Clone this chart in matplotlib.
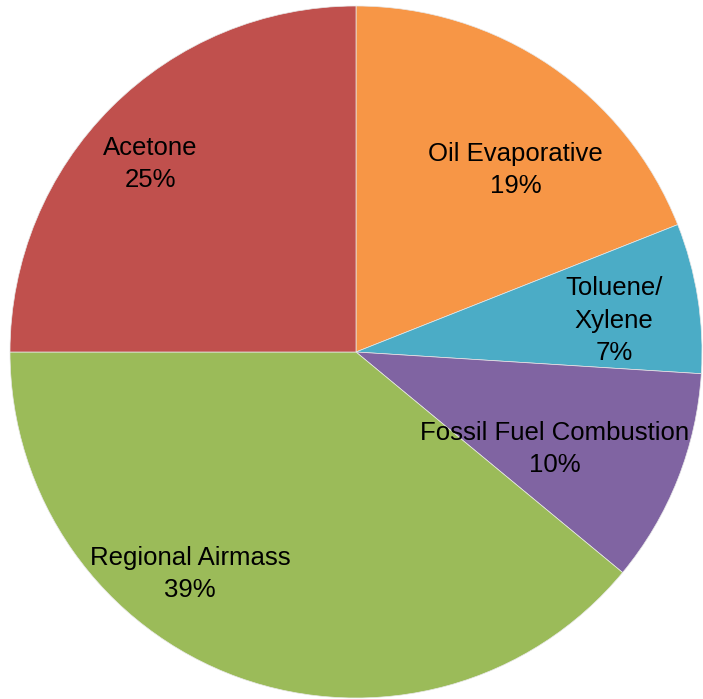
import matplotlib
matplotlib.use("Agg")
import matplotlib.pyplot as plt

# source apportionment shares (%)
sources = ["Oil Evaporative", "Toluene/\nXylene", "Fossil Fuel Combustion",
           "Regional Airmass", "Acetone"]
shares = [19, 7, 10, 39, 25]
colors = ["#F79646", "#4BACC6", "#8064A2", "#9BBB59", "#C0504D"]

# label anchor points in pie units (radius = 1)
label_xy = [(0.462, 0.526), (0.746, 0.09), (0.575, -0.280),
            (-0.480, -0.642), (-0.595, 0.543)]

plt.rcParams['font.family'] = ['Liberation Sans', 'DejaVu Sans']

fig = plt.figure(figsize=(7.03, 6.99), dpi=100)
ax = fig.add_axes([10 / 703, 1 / 699, 692 / 703, 692 / 699])
wedges, _ = ax.pie(shares, colors=colors, startangle=90, counterclock=False,
                   radius=1.0, wedgeprops=dict(linewidth=0.5, edgecolor="#e8e8e8"))
ax.set_xlim(-1, 1)
ax.set_ylim(-1, 1)
ax.set_aspect("equal")
ax.axis("off")

for name, val, (x, y) in zip(sources, shares, label_xy):
    ax.text(x, y, f"{name}\n{val}%", ha="center", va="center",
            fontsize=18.5, color="black", linespacing=1.45)

fig.savefig("out.png", dpi=100)
